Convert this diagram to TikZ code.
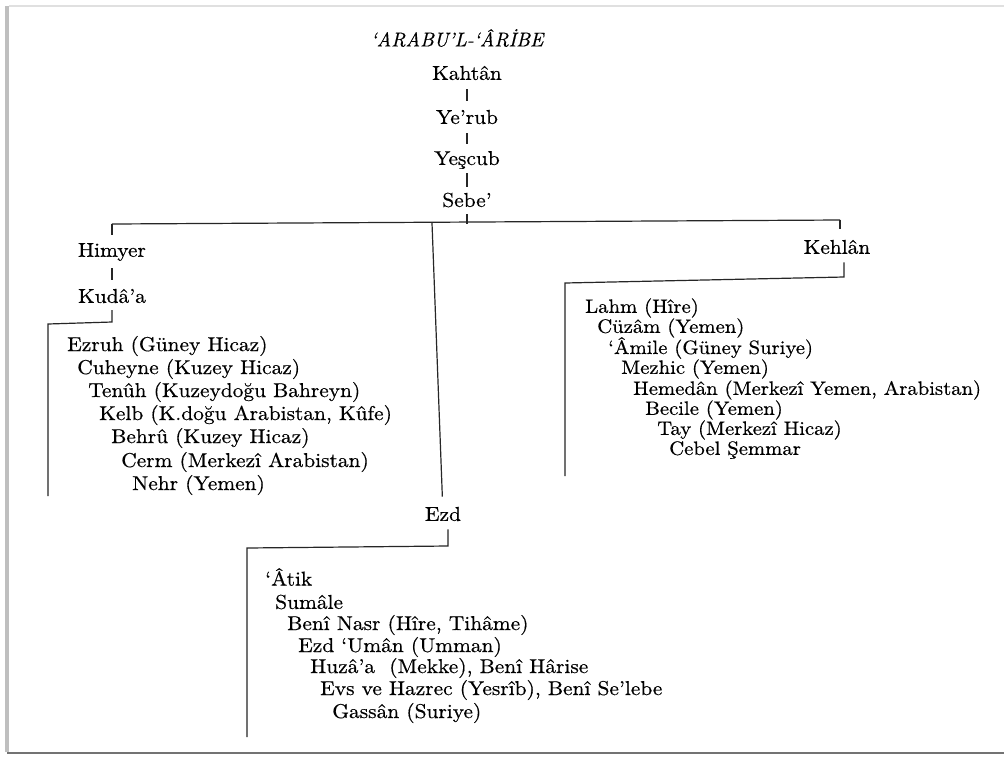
\documentclass[tikz,border=0pt]{standalone}
\usepackage{fontspec}
\setmainfont{lmroman10-regular.otf}[
  FakeStretch=1.07, FakeBold=0.5,
  ItalicFont=lmroman10-italic.otf,
  ItalicFeatures={FakeStretch=0.98, FakeBold=0.5}]
\begin{document}
\begin{tikzpicture}[x=0.75pt,y=-0.75pt,
  txt/.style={inner sep=0pt, font=\fontsize{15}{18}\selectfont},
  item/.style={txt, anchor=west},
  ritem/.style={item, font=\fontsize{14.5}{17}\selectfont},
  link/.style={line width=0.9pt, black!85},
  bar/.style={link, shorten <=12pt, shorten >=12pt}]
\useasboundingbox (0,0) rectangle (1004,758);
\fill[white] (0,0) rectangle (1004,758);
% page frame
\draw[black!12, line width=2pt] (9,6) -- (1004,6);
\draw[black!25, line width=3pt] (7,6) -- (7,752);
\draw[black!55, line width=2pt] (7,753) -- (1004,753);

% title and main line
\node[txt, font=\fontsize{15}{18}\selectfont\itshape] (title) at (457,38) {‘ARABU’L-‘ÂRİBE};
\node[txt] (kahtan) at (467,73) {Kahtân};
\node[txt] (yerub) at (467,117) {Ye’rub};
\node[txt] (yescub) at (467,160) {Yeşcub};
\node[txt] (sebe) at (467,200) {Sebe’};
\draw[bar] (kahtan.center) -- (yerub.center);
\draw[bar] (yerub.center) -- (yescub.center);
\draw[link, shorten <=10pt, shorten >=10pt] (yescub.center) -- (sebe.center);

\coordinate (S) at (467,224);
\coordinate (L) at (112,224);
\coordinate (R) at (840,220);
\coordinate (E) at (432,223);
\draw[link, shorten <=10.5pt] (sebe.center) -- (S);
\draw[link] (L) -- (R);

% Himyer branch
\node[txt] (himyer) at (112,252) {Himyer};
\node[txt] (kuda) at (112,296) {Kudâ’a};
\draw[link, shorten >=12.5pt] (L) -- (himyer.center);
\draw[bar] (himyer.center) -- (kuda.center);
\coordinate (k1) at (112,322);
\coordinate (k2) at (48,324);
\coordinate (k3) at (48,496);
\draw[link, shorten <=10.5pt] (kuda.center) -- (k1) -- (k2) -- (k3);

\node[item] (ezruh) at (67,346) {Ezruh (Güney Hicaz)};
\node[item] (cuheyne) at (77,369) {Cuheyne (Kuzey Hicaz)};
\node[item] (tenuh) at (88,392) {Tenûh (Kuzeydoğu Bahreyn)};
\node[item] (kelb) at (99,415) {Kelb (K.doğu Arabistan, Kûfe)};
\node[item] (behru) at (111,438) {Behrû (Kuzey Hicaz)};
\node[item] (cerm) at (121,462) {Cerm (Merkezî Arabistan)};
\node[item] (nehr) at (132,485) {Nehr (Yemen)};

% Kehlan branch
\node[txt] (kehlan) at (837,247) {Kehlân};
\draw[link, shorten >=8pt] (R) -- (kehlan.north -| R);
\coordinate (r1) at (844,277);
\coordinate (r2) at (565,283);
\coordinate (r3) at (565,476);
\draw[link, shorten <=6pt] (kehlan.south -| r1) -- (r1) -- (r2) -- (r3);

\node[ritem] (lahm) at (585,308) {Lahm (Hîre)};
\node[ritem] (cuzam) at (597,328) {Cüzâm (Yemen)};
\node[ritem] (amile) at (608,348) {‘Âmile (Güney Suriye)};
\node[ritem] (mezhic) at (621,369) {Mezhic (Yemen)};
\node[ritem] (hemedan) at (633,390) {Hemedân (Merkezî Yemen, Arabistan)};
\node[ritem] (becile) at (645,410) {Becile (Yemen)};
\node[ritem] (tay) at (657,430) {Tay (Merkezî Hicaz)};
\node[ritem] (cebel) at (669,450) {Cebel Şemmar};

% Ezd branch
\node[txt] (ezd) at (443,514) {Ezd};
\draw[link, shorten >=13pt] (E) -- (ezd.center);
\coordinate (e1) at (448,546);
\coordinate (e2) at (247,548);
\coordinate (e3) at (247,737);
\draw[link, shorten <=6pt] (ezd.south -| e1) -- (e1) -- (e2) -- (e3);

\node[item] (atik) at (265,577) {‘Âtik};
\node[item] (sumale) at (275,602) {Sumâle};
\node[item] (nasr) at (287,625) {Benî Nasr (Hîre, Tihâme)};
\node[item] (uman) at (298,647) {Ezd ‘Umân (Umman)};
\node[item] (huzaa) at (310,668) {Huzâ’a\ \ (Mekke), Benî Hârise};
\node[item] (evs) at (320,690) {Evs ve Hazrec (Yesrîb), Benî Se’lebe};
\node[item] (gassan) at (332,713) {Gassân (Suriye)};
\end{tikzpicture}
\end{document}
